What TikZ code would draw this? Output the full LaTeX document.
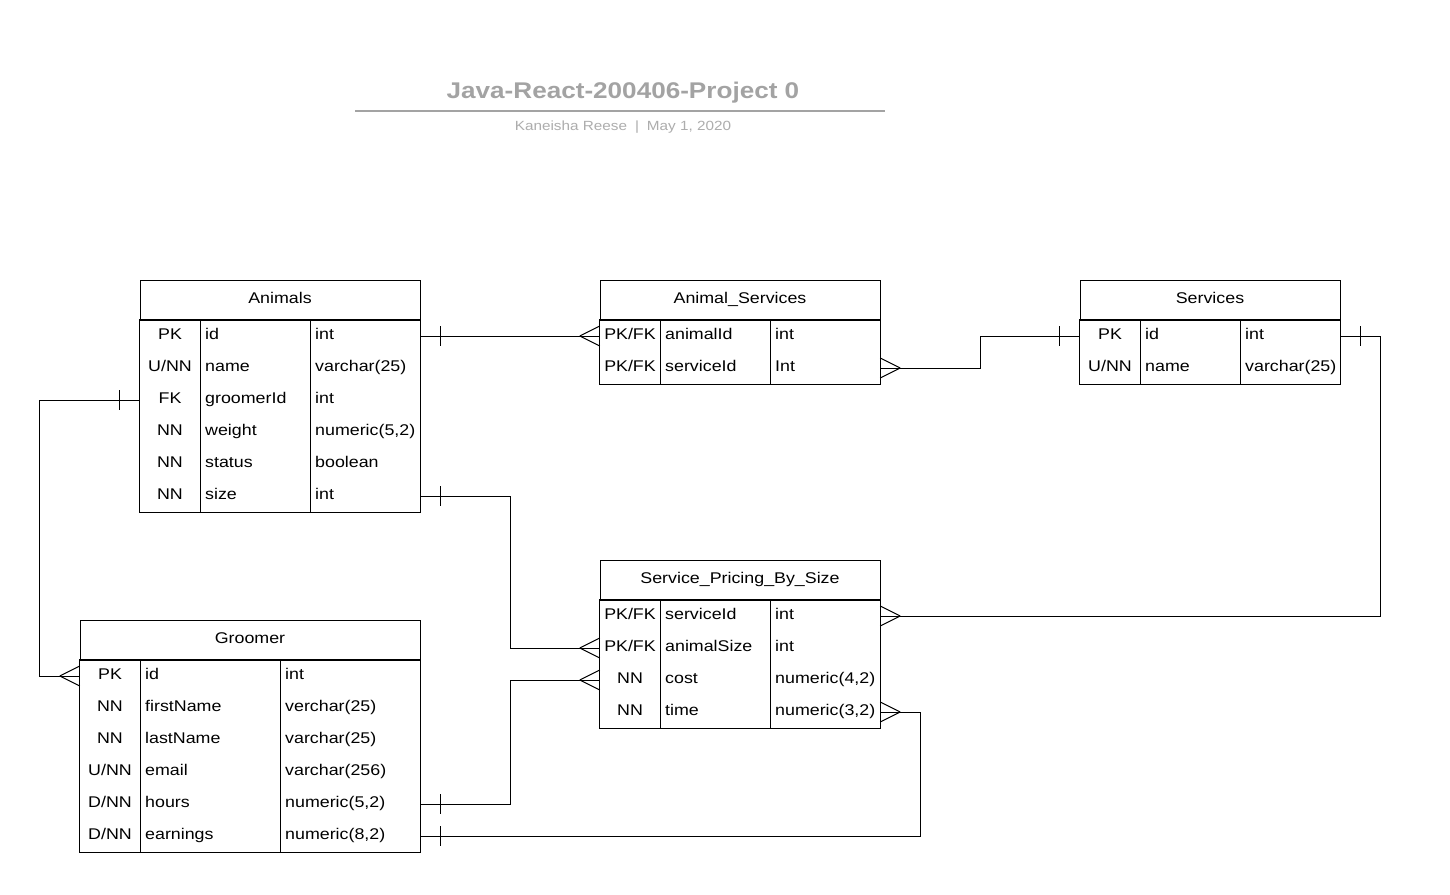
\documentclass[tikz,border=0pt]{standalone}
\usepackage{fontspec}
\setmainfont[FakeStretch=1.15]{Liberation Sans}
\usepackage{xcolor}
\usepackage{tikz}
\definecolor{titlec}{HTML}{A3A3A3}
\definecolor{subc}{HTML}{ADADAD}
\newcommand{\tabfont}{\fontsize{15.5}{18}\selectfont}
\tikzset{
  rowbox/.style={minimum height=32,inner sep=0pt},
  hdrbox/.style={draw,line width=0.8pt,minimum height=40,inner sep=0pt},
  tbl/.style={line width=0.8pt},
  keytxt/.style={font=\tabfont,anchor=base,inner sep=0pt},
  fldtxt/.style={font=\tabfont,anchor=base west,inner sep=0pt},
  link/.style={line width=1pt},
  footW/.pic={\draw[link] (-20,0)--(0,-10) (-20,0)--(0,10);},
  footE/.pic={\draw[link] (20,0)--(0,-10) (20,0)--(0,10);},
  barW/.pic={\draw[link] (-20,-10)--(-20,10);},
  barE/.pic={\draw[link] (20,-10)--(20,10);}
}
\begin{document}
\begin{tikzpicture}[x=1pt,y=-1pt]
\fill[white] (0,0) rectangle (1450,894);
\useasboundingbox (0,0) rectangle (1450,894);
% title block
\node[font=\fontsize{22.7}{26}\selectfont\bfseries,text=titlec,anchor=base,inner sep=0pt] (ttl) at (623,98) {Java-React-200406-Project 0};
\draw[titlec,line width=1.5pt] (355,111) -- (885,111);
\node[font=\fontsize{13.3}{16}\selectfont,text=subc,anchor=base,inner sep=0pt] (sub) at (623,130) {Kaneisha Reese\hspace{8pt}|\hspace{8pt}May 1, 2020};
% Animals
\node[hdrbox,minimum width=280] (anim) at (280,300) {};
\node[keytxt] (anim-h) at (280,303) {Animals};
\foreach \k/\f/\t [count=\i] in {PK/id/int,{U/NN}/name/varchar(25),FK/groomerId/int,NN/weight/{numeric(5,2)},NN/status/boolean,NN/size/int}{
  \node[rowbox,minimum width=280] (anim-\i) at (280,304+32*\i) {};
  \node[keytxt] (anim-\i-k) at (170,307+32*\i) {\k};
  \node[fldtxt] (anim-\i-f) at (205,307+32*\i) {\f};
  \node[fldtxt] (anim-\i-t) at (315,307+32*\i) {\t};
}
\draw[tbl] (anim-1.north west) rectangle (anim-6.south east);
\draw[tbl] (200,320) -- (200,512) (310,320) -- (310,512);
% Animal_Services
\node[hdrbox,minimum width=280] (as) at (740,300) {};
\node[keytxt] (as-h) at (740,303) {Animal\_Services};
\foreach \f/\t [count=\i] in {animalId/int,serviceId/Int}{
  \node[rowbox,minimum width=280] (as-\i) at (740,304+32*\i) {};
  \node[keytxt] (as-\i-k) at (630,307+32*\i) {PK/FK};
  \node[fldtxt] (as-\i-f) at (665,307+32*\i) {\f};
  \node[fldtxt] (as-\i-t) at (775,307+32*\i) {\t};
}
\draw[tbl] (as-1.north west) rectangle (as-2.south east);
\draw[tbl] (660,320) -- (660,384) (770,320) -- (770,384);
% Services
\node[hdrbox,minimum width=260] (serv) at (1210,300) {};
\node[keytxt] (serv-h) at (1210,303) {Services};
\foreach \k/\f/\t [count=\i] in {PK/id/int,{U/NN}/name/varchar(25)}{
  \node[rowbox,minimum width=260] (serv-\i) at (1210,304+32*\i) {};
  \node[keytxt] (serv-\i-k) at (1110,307+32*\i) {\k};
  \node[fldtxt] (serv-\i-f) at (1145,307+32*\i) {\f};
  \node[fldtxt] (serv-\i-t) at (1245,307+32*\i) {\t};
}
\draw[tbl] (serv-1.north west) rectangle (serv-2.south east);
\draw[tbl] (1140,320) -- (1140,384) (1240,320) -- (1240,384);
% Service_Pricing_By_Size
\node[hdrbox,minimum width=280] (spbs) at (740,580) {};
\node[keytxt] (spbs-h) at (740,583) {Service\_Pricing\_By\_Size};
\foreach \k/\f/\t [count=\i] in {{PK/FK}/serviceId/int,{PK/FK}/animalSize/int,NN/cost/{numeric(4,2)},NN/time/{numeric(3,2)}}{
  \node[rowbox,minimum width=280] (spbs-\i) at (740,584+32*\i) {};
  \node[keytxt] (spbs-\i-k) at (630,587+32*\i) {\k};
  \node[fldtxt] (spbs-\i-f) at (665,587+32*\i) {\f};
  \node[fldtxt] (spbs-\i-t) at (775,587+32*\i) {\t};
}
\draw[tbl] (spbs-1.north west) rectangle (spbs-4.south east);
\draw[tbl] (660,600) -- (660,728) (770,600) -- (770,728);
% Groomer
\node[hdrbox,minimum width=340] (groom) at (250,640) {};
\node[keytxt] (groom-h) at (250,643) {Groomer};
\foreach \k/\f/\t [count=\i] in {PK/id/int,NN/firstName/verchar(25),NN/lastName/varchar(25),{U/NN}/email/varchar(256),{D/NN}/hours/{numeric(5,2)},{D/NN}/earnings/{numeric(8,2)}}{
  \node[rowbox,minimum width=340] (groom-\i) at (250,644+32*\i) {};
  \node[keytxt] (groom-\i-k) at (110,647+32*\i) {\k};
  \node[fldtxt] (groom-\i-f) at (145,647+32*\i) {\f};
  \node[fldtxt] (groom-\i-t) at (285,647+32*\i) {\t};
}
\draw[tbl] (groom-1.north west) rectangle (groom-6.south east);
\draw[tbl] (140,660) -- (140,852) (280,660) -- (280,852);
% relations
\draw[link] (anim-1.east) -- (as-1.west);
\pic at (anim-1.east) {barE}; \pic at (as-1.west) {footW};
\draw[link] (as-2.east) -- ++(100,0) |- (serv-1.west);
\pic at (as-2.east) {footE}; \pic at (serv-1.west) {barW};
\draw[link] (serv-1.east) -- ++(40,0) |- (spbs-1.east);
\pic at (serv-1.east) {barE}; \pic at (spbs-1.east) {footE};
\draw[link] (anim-6.east) -- ++(90,0) |- (spbs-2.west);
\pic at (anim-6.east) {barE}; \pic at (spbs-2.west) {footW};
\draw[link] (anim-3.west) -- ++(-100,0) |- (groom-1.west);
\pic at (anim-3.west) {barW}; \pic at (groom-1.west) {footW};
\draw[link] (groom-5.east) -- ++(90,0) |- (spbs-3.west);
\pic at (groom-5.east) {barE}; \pic at (spbs-3.west) {footW};
\draw[link] (groom-6.east) -- ++(500,0) |- (spbs-4.east);
\pic at (groom-6.east) {barE}; \pic at (spbs-4.east) {footE};
\end{tikzpicture}
\end{document}
